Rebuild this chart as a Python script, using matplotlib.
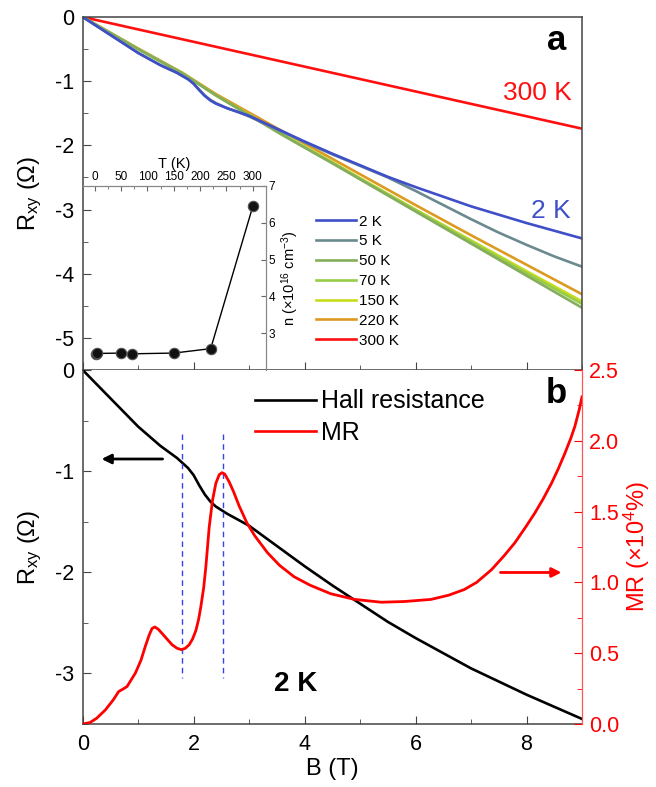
import numpy as np
import matplotlib
matplotlib.use("Agg")
import matplotlib.pyplot as plt
from matplotlib.ticker import MultipleLocator, FormatStrFormatter
from matplotlib.lines import Line2D

plt.rcParams['font.family'] = ['Liberation Sans', 'DejaVu Sans']
plt.rcParams['mathtext.default'] = 'regular'
plt.rcParams['axes.unicode_minus'] = False

# ---- data: panel a, Hall resistance vs field at several temperatures ----
B_2k = [0, 0.5, 1.0, 1.4, 1.7, 1.9, 2.0, 2.1, 2.2, 2.3, 2.4, 2.6, 2.8, 3.0,
        3.5, 4.0, 4.5, 5.0, 5.5, 6.0, 6.5, 7.0, 7.5, 8.0, 8.5, 9.0]
rxy_2k = [0, -0.28, -0.56, -0.75, -0.87, -0.97, -1.04, -1.14, -1.23, -1.30,
          -1.35, -1.42, -1.48, -1.54, -1.74, -1.94, -2.13, -2.31, -2.49,
          -2.65, -2.80, -2.95, -3.08, -3.21, -3.33, -3.45]

B_5k = [0, 0.5, 1.0, 1.4, 1.7, 1.9, 2.0, 2.1, 2.2, 2.3, 2.4, 2.6, 2.8, 3.0,
        3.5, 4.0, 4.5, 5.0, 5.5, 6.0, 6.5, 7.0, 7.5, 8.0, 8.5, 9.0]
rxy_5k = [0, -0.28, -0.56, -0.75, -0.87, -0.97, -1.04, -1.13, -1.22, -1.29,
          -1.34, -1.42, -1.48, -1.55, -1.75, -1.95, -2.14, -2.32, -2.50,
          -2.71, -2.93, -3.15, -3.36, -3.55, -3.73, -3.89]

B_t = [0, 1.0, 1.8, 2.4, 3.0, 3.6, 4.5, 5.0, 6.0, 7.0, 8.0, 9.0]
rxy_50k = [0, -0.50, -0.88, -1.22, -1.53, -1.84, -2.28, -2.53, -3.03, -3.53, -4.03, -4.53]
rxy_70k = [0, -0.50, -0.88, -1.22, -1.53, -1.83, -2.27, -2.52, -3.01, -3.50, -3.99, -4.47]
rxy_150k = [0, -0.50, -0.88, -1.22, -1.52, -1.83, -2.26, -2.51, -3.00, -3.48, -3.96, -4.43]
rxy_220k = [0, -0.49, -0.87, -1.20, -1.49, -1.78, -2.21, -2.45, -2.93, -3.40, -3.86, -4.32]
B_300k = [0, 3, 6, 9]
rxy_300k = [0, -0.58, -1.16, -1.74]

temps = ['2 K', '5 K', '50 K', '70 K', '150 K', '220 K', '300 K']
colors = ['#3f4fc8', '#6a8a90', '#84ad5c', '#98cc46', '#c8dc1e', '#dc9a22', '#ff1010']

# ---- inset: carrier density vs temperature ----
T_inset = [2, 5, 50, 70, 150, 220, 300]
n_inset = [2.43, 2.45, 2.46, 2.44, 2.46, 2.58, 6.45]

# ---- data: panel b, MR at 2 K ----
B_mr = [0, 0.13, 0.25, 0.41, 0.55, 0.65, 0.72, 0.80, 0.95, 1.05, 1.13, 1.20,
        1.25, 1.30, 1.36, 1.43, 1.52, 1.61, 1.70, 1.78, 1.85, 1.92, 1.98,
        2.04, 2.09, 2.13, 2.18, 2.22, 2.28, 2.34, 2.40, 2.46, 2.51, 2.56,
        2.64, 2.72, 2.82, 2.96, 3.1, 3.33, 3.55, 3.81, 4.1, 4.47, 4.9, 5.38,
        5.8, 6.28, 6.6, 6.88, 7.1, 7.37, 7.6, 7.79, 8.0, 8.15, 8.3, 8.45,
        8.57, 8.69, 8.80, 8.87, 8.95, 9.0]
mr = [0, 0.01, 0.04, 0.10, 0.17, 0.23, 0.245, 0.265, 0.36, 0.45, 0.55, 0.63,
      0.675, 0.685, 0.67, 0.64, 0.60, 0.56, 0.535, 0.525, 0.535, 0.56, 0.60,
      0.66, 0.74, 0.83, 0.96, 1.11, 1.39, 1.58, 1.70, 1.76, 1.775, 1.765,
      1.71, 1.64, 1.54, 1.42, 1.33, 1.21, 1.12, 1.04, 0.98, 0.92, 0.88, 0.86,
      0.865, 0.88, 0.91, 0.95, 1.00, 1.09, 1.19, 1.28, 1.40, 1.49, 1.59, 1.70,
      1.80, 1.91, 2.02, 2.10, 2.22, 2.31]

vline_B = [1.79, 2.53]

W, H = 656, 787
fig = plt.figure(figsize=(W / 100, H / 100), dpi=100)

L, R = 82.7 / W, 582 / W
ax_a = fig.add_axes([L, 1 - 370 / H, R - L, (370 - 17) / H])
ax_b = fig.add_axes([L, 1 - 724 / H, R - L, (724 - 370) / H])

spine_c = '#444444'
tick_fs = 15.5
label_fs = 17

# ---------------- panel a ----------------
series = [(B_2k, rxy_2k), (B_5k, rxy_5k), (B_t, rxy_50k), (B_t, rxy_70k),
          (B_t, rxy_150k), (B_t, rxy_220k), (B_300k, rxy_300k)]
order = [6, 5, 4, 3, 2, 1, 0]
lines = {}
for i in order:
    bx, ry = series[i]
    lines[i], = ax_a.plot(bx, ry, color=colors[i], lw=1.9)

ax_a.set_xlim(0, 9)
ax_a.set_ylim(-5.5, 0)
ax_a.yaxis.set_major_locator(MultipleLocator(1))
ax_a.yaxis.set_minor_locator(MultipleLocator(0.5))
ax_a.xaxis.set_major_locator(MultipleLocator(2))
ax_a.xaxis.set_minor_locator(MultipleLocator(1))
ax_a.tick_params(axis='x', labelbottom=False)
ax_a.set_ylabel('R$_{xy}$ (Ω)', fontsize=label_fs, labelpad=8)

ax_a.text(8.81, -1.29, '300 K', color='#ff1010', fontsize=19, ha='right', va='baseline')
ax_a.text(8.79, -3.13, '2 K', color='#3f4fc8', fontsize=19, ha='right', va='baseline')
ax_a.text(8.54, -0.51, 'a', fontsize=25, fontweight='bold', ha='center', va='baseline')

ax_a.legend([lines[i] for i in range(7)], temps, loc='upper left',
            bbox_to_anchor=(0.467, 0.44), frameon=False, fontsize=11,
            handlelength=2.6, handletextpad=0.25, labelspacing=0.38,
            borderpad=0, borderaxespad=0)

# inset
ins = fig.add_axes([L, 1 - 370 / H, (266 - 82.7) / W, (370 - 186) / H])
ins.patch.set_alpha(0)
ins.plot(T_inset, n_inset, color='k', lw=1.0, marker='o', ms=7.5,
         mfc='#111111', mec='#555555', mew=0.8)
ins.set_xlim(-23, 325)
ins.set_ylim(2, 7)
ins.spines['left'].set_visible(False)
ins.spines['bottom'].set_visible(False)
ins.xaxis.tick_top()
ins.xaxis.set_label_position('top')
ins.yaxis.tick_right()
ins.yaxis.set_label_position('right')
ins.xaxis.set_major_locator(MultipleLocator(50))
ins.xaxis.set_minor_locator(MultipleLocator(25))
ins.set_yticks([3, 4, 5, 6, 7])
ins.tick_params(direction='in', labelsize=8.5, pad=2, length=3.5, color='#666666')
ins.tick_params(which='minor', direction='in', length=2, color='#666666')
ins.set_xlabel('T (K)', fontsize=10.5, labelpad=2)
ins.set_ylabel('n (×10$^{16}$ cm$^{-3}$)', fontsize=10.5, labelpad=3, rotation=90)
for s in ['top', 'right']:
    ins.spines[s].set_color('#888888')
    ins.spines[s].set_linewidth(0.9)

# ---------------- panel b ----------------
ax_b.plot(B_2k, rxy_2k, color='k', lw=1.9)
ax_b.set_xlim(0, 9)
ax_b.set_ylim(-3.5, 0)
ax_b.yaxis.set_major_locator(MultipleLocator(1))
ax_b.yaxis.set_minor_locator(MultipleLocator(0.5))
ax_b.xaxis.set_major_locator(MultipleLocator(2))
ax_b.xaxis.set_minor_locator(MultipleLocator(1))
ax_b.set_ylabel('R$_{xy}$ (Ω)', fontsize=label_fs, labelpad=8)
ax_b.set_xlabel('B (T)', fontsize=label_fs, labelpad=2)

for xb in vline_B:
    ax_b.plot([xb, xb], [-0.63, -3.05], color='#3344ee', lw=1.0, ls=(0, (4, 3)))

ax_b2 = ax_b.twinx()
ax_b2.plot(B_mr, mr, color='#ff0000', lw=2.0)
ax_b2.set_ylim(0, 2.5)
ax_b2.set_xlim(0, 9)
ax_b2.yaxis.set_major_locator(MultipleLocator(0.5))
ax_b2.yaxis.set_minor_locator(MultipleLocator(0.25))
ax_b2.yaxis.set_major_formatter(FormatStrFormatter('%.1f'))
ax_b2.set_ylabel('MR (×10$^{4}$%)', fontsize=label_fs, color='#ff0000', labelpad=2)
ax_b2.tick_params(axis='y', which='both', direction='in', colors='#ff0000',
                  labelsize=tick_fs, pad=5)
ax_b2.tick_params(axis='y', which='major', length=6)
ax_b2.tick_params(axis='y', which='minor', length=3.5)
ax_b2.spines['right'].set_color('#ff5555')
ax_b2.spines['right'].set_linewidth(0.9)
for s in ['left', 'top', 'bottom']:
    ax_b2.spines[s].set_visible(False)

ax_b.annotate('', xy=(0.29, -0.88), xytext=(1.49, -0.88),
              arrowprops=dict(arrowstyle='-|>', color='k', lw=2, mutation_scale=14))
ax_b2.annotate('', xy=(8.68, 1.07), xytext=(7.48, 1.07),
               arrowprops=dict(arrowstyle='-|>', color='#ff0000', lw=2, mutation_scale=14))

ax_b.text(3.84, -3.10, '2 K', fontsize=20, fontweight='bold', ha='center', va='center')
ax_b.text(8.54, -0.33, 'b', fontsize=25, fontweight='bold', ha='center', va='baseline')

handles = [Line2D([], [], color='k', lw=1.9), Line2D([], [], color='#ff0000', lw=1.9)]
ax_b.legend(handles, ['Hall resistance', 'MR'], loc='upper left',
            bbox_to_anchor=(0.345, 0.945), frameon=False, fontsize=18,
            handlelength=2.45, handletextpad=0.18, labelspacing=0.3,
            borderpad=0, borderaxespad=0)

for ax in (ax_a, ax_b):
    ax.tick_params(which='both', direction='in', labelsize=tick_fs, color=spine_c)
    ax.tick_params(which='major', length=6)
    ax.tick_params(which='minor', length=3.5)
    ax.tick_params(axis='y', pad=6)
    ax.tick_params(axis='x', pad=7)
    for s in ax.spines.values():
        s.set_color(spine_c)
        s.set_linewidth(1.1)
ax_b.spines['right'].set_visible(False)
ax_b.spines['top'].set_visible(False)

fig.savefig('out.png', dpi=100)
